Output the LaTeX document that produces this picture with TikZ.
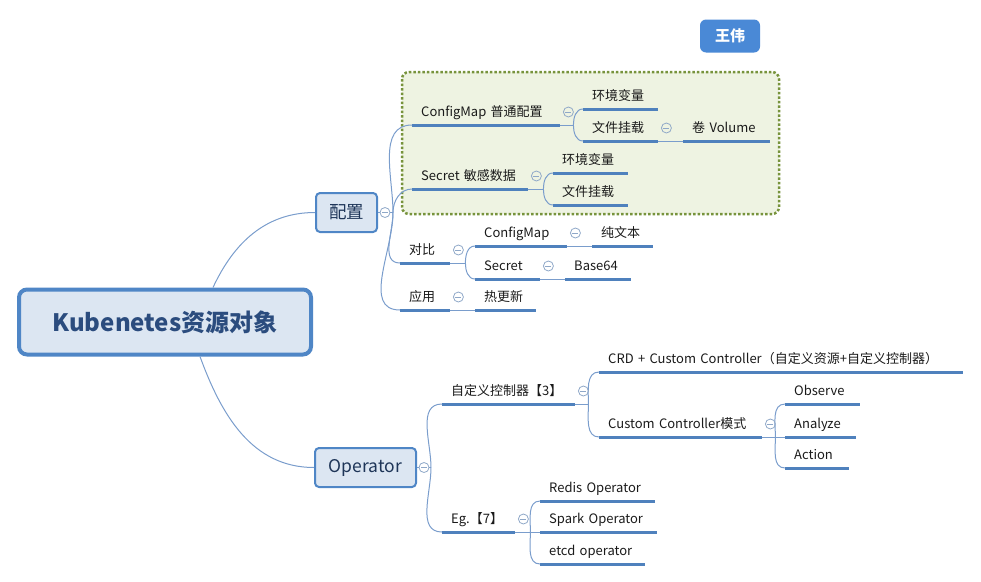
\documentclass[tikz,border=0pt]{standalone}
\usepackage{fontspec}
\setmainfont{Noto Sans CJK SC}
\usetikzlibrary{calc}
\definecolor{linkc}{HTML}{7A9DCC}
\definecolor{ulinec}{HTML}{4F81BD}
\definecolor{foldc}{HTML}{8FA8C8}
\definecolor{boxfill}{HTML}{DCE6F2}
\definecolor{boxdraw}{HTML}{4F86C6}
\definecolor{roottext}{HTML}{2B4C7E}
\definecolor{grpfill}{HTML}{EEF3E2}
\definecolor{grpdraw}{HTML}{77933C}
\definecolor{tagfill}{HTML}{4A89D6}
\definecolor{labeltext}{HTML}{1A1A1A}

\begin{document}
\begin{tikzpicture}[x=1pt, y=1pt,
  root/.style={rectangle, draw=boxdraw, fill=boxfill, line width=4pt, rounded corners=8pt, minimum width=292pt, minimum height=65pt, font=\fontsize{24pt}{27pt}\selectfont\bfseries, text=roottext},
  main/.style={rectangle, draw=boxdraw, fill=boxfill, line width=2pt, rounded corners=4pt, minimum height=39pt, font=\fontsize{17.5pt}{19pt}\selectfont, text=roottext!70!black},
  topic/.style={anchor=south west, text width=#1, align=left, inner xsep=9pt, inner ysep=5pt, text height=10pt, text depth=3pt, font=\fontsize{13pt}{15pt}\selectfont, text=labeltext},
  uline/.style={draw=ulinec, line width=3pt},
  link/.style={draw=linkc, line width=1pt},
  fold/.style={circle, draw=foldc, line width=0.8pt, minimum size=10pt, inner sep=0pt, path picture={\draw[foldc, line width=0.8pt] ([xshift=2pt]path picture bounding box.west) -- ([xshift=-2pt]path picture bounding box.east);}},
  grp/.style={draw=grpdraw, fill=grpfill, line width=2.5pt, dotted, rounded corners=7pt},
  tag/.style={rectangle, fill=tagfill, rounded corners=6pt, minimum width=60pt, minimum height=33pt, font=\fontsize{15pt}{17pt}\selectfont\bfseries, text=white}
]
\useasboundingbox (0,0) rectangle (981,-581);

% group box behind the config branches
\draw[grp] (402,-72) rectangle (779,-214);

% main boxes
\node[root] (root) at (165,-322) {Kubenetes资源对象};
\node[main, minimum width=61pt] (pz) at (346.5,-212.5) {配置};
\node[main, minimum width=101pt] (op) at (365.5,-467.5) {Operator};
\node[tag] (wang) at (730,-36) {王伟};

% config branch
\node[topic=130pt] (cfg) at (412,-125) {ConfigMap 普通配置};
\node[topic=57pt] (cfgenv) at (583,-109) {环境变量};
\node[topic=57pt] (cfgfile) at (583,-141) {文件挂载};
\node[topic=69pt] (vol) at (683,-141) {卷 Volume};
\node[topic=98pt] (sec) at (412,-189) {Secret 敏感数据};
\node[topic=57pt] (secenv) at (553,-173) {环境变量};
\node[topic=57pt] (secfile) at (553,-205) {文件挂载};
\node[topic=32pt] (cmp) at (400,-263) {对比};
\node[topic=74pt] (cmpcm) at (475,-246) {ConfigMap};
\node[topic=43pt] (plain) at (592,-246) {纯文本};
\node[topic=47pt] (cmpsec) at (475,-279) {Secret};
\node[topic=48pt] (b64) at (565,-279) {Base64};
\node[topic=32pt] (use) at (400,-310) {应用};
\node[topic=43pt] (hot) at (475,-310) {热更新};

% operator branch
\node[topic=115pt] (ctrl) at (442,-404) {自定义控制器【3】};
\node[topic=346pt] (crd) at (599,-372) {CRD + Custom Controller（自定义资源+自定义控制器）};
\node[topic=145pt] (ccm) at (599,-437) {Custom Controller模式};
\node[topic=57pt] (obs) at (785,-404) {Observe};
\node[topic=53pt] (ana) at (785,-437) {Analyze};
\node[topic=46pt] (act) at (785,-468) {Action};
\node[topic=55pt] (eg) at (442,-532) {Eg.【7】};
\node[topic=97pt] (redis) at (540,-501) {Redis Operator};
\node[topic=99pt] (spark) at (540,-532) {Spark Operator};
\node[topic=87pt] (etcd) at (540,-564) {etcd operator};

% underlines
\foreach \n in {cfg,cfgenv,cfgfile,vol,sec,secenv,secfile,cmp,cmpcm,plain,cmpsec,b64,use,hot,ctrl,crd,ccm,obs,ana,act,eg,redis,spark,etcd}
  \draw[uline] (\n.south west) -- (\n.south east);

% root links
\draw[link] ($(root.north)+(48,0)$) to[out=65,in=180] (pz.west);
\draw[link] ($(root.south)+(35,0)$) to[out=-70,in=180] (op.west);

% fork points
\coordinate (fpz) at ($(pz.east)+(15,0)$);
\coordinate (fop) at ($(op.east)+(14,0)$);
\coordinate (fcfg) at ($(cfg.south east)+(13,0)$);
\coordinate (fsec) at ($(sec.south east)+(15,0)$);
\coordinate (fcmp) at ($(cmp.south east)+(15,0)$);
\coordinate (fctrl) at ($(ctrl.south east)+(13,0)$);
\coordinate (fccm) at ($(ccm.south east)+(13,0)$);
\coordinate (feg) at ($(eg.south east)+(15,0)$);

\draw[link] (pz.east) -- (fpz);
\draw[link] (fpz) to[out=90,in=180] (cfg.south west);
\draw[link] (fpz) to[out=90,in=180] (sec.south west);
\draw[link] (fpz) to[out=-90,in=180] (cmp.south west);
\draw[link] (fpz) to[out=-90,in=180] (use.south west);

\draw[link] (cfg.south east) -- (fcfg);
\draw[link] (fcfg) to[out=90,in=180] (cfgenv.south west);
\draw[link] (fcfg) to[out=-90,in=180] (cfgfile.south west);
\draw[link] (cfgfile.south east) -- (vol.south west);
\draw[link] (sec.south east) -- (fsec);
\draw[link] (fsec) to[out=90,in=180] (secenv.south west);
\draw[link] (fsec) to[out=-90,in=180] (secfile.south west);
\draw[link] (cmp.south east) -- (fcmp);
\draw[link] (fcmp) to[out=90,in=180] (cmpcm.south west);
\draw[link] (fcmp) to[out=-90,in=180] (cmpsec.south west);
\draw[link] (cmpcm.south east) -- (plain.south west);
\draw[link] (cmpsec.south east) -- (b64.south west);
\draw[link] (use.south east) -- (hot.south west);

\draw[link] (op.east) -- (fop);
\draw[link] (fop) to[out=90,in=180] (ctrl.south west);
\draw[link] (fop) to[out=-90,in=180] (eg.south west);
\draw[link] (ctrl.south east) -- (fctrl);
\draw[link] (fctrl) to[out=90,in=180] (crd.south west);
\draw[link] (fctrl) to[out=-90,in=180] (ccm.south west);
\draw[link] (ccm.south east) -- (fccm);
\draw[link] (fccm) to[out=90,in=180] (obs.south west);
\draw[link] (fccm) -- (ana.south west);
\draw[link] (fccm) to[out=-90,in=180] (act.south west);
\draw[link] (eg.south east) -- (feg);
\draw[link] (feg) to[out=90,in=180] (redis.south west);
\draw[link] (feg) -- (spark.south west);
\draw[link] (feg) to[out=-90,in=180] (etcd.south west);

% fold markers
\node[fold, fill=white] (kpz) at ($(pz.east)+(7,0)$) {};
\node[fold, fill=white] (kop) at ($(op.east)+(7,0)$) {};
\foreach \n in {cfg,cfgfile,sec,cmp,cmpcm,cmpsec,use,ctrl,ccm,eg}
  \node[fold] (k\n) at ($(\n.south east)+(8,13)$) {};
\end{tikzpicture}
\end{document}
